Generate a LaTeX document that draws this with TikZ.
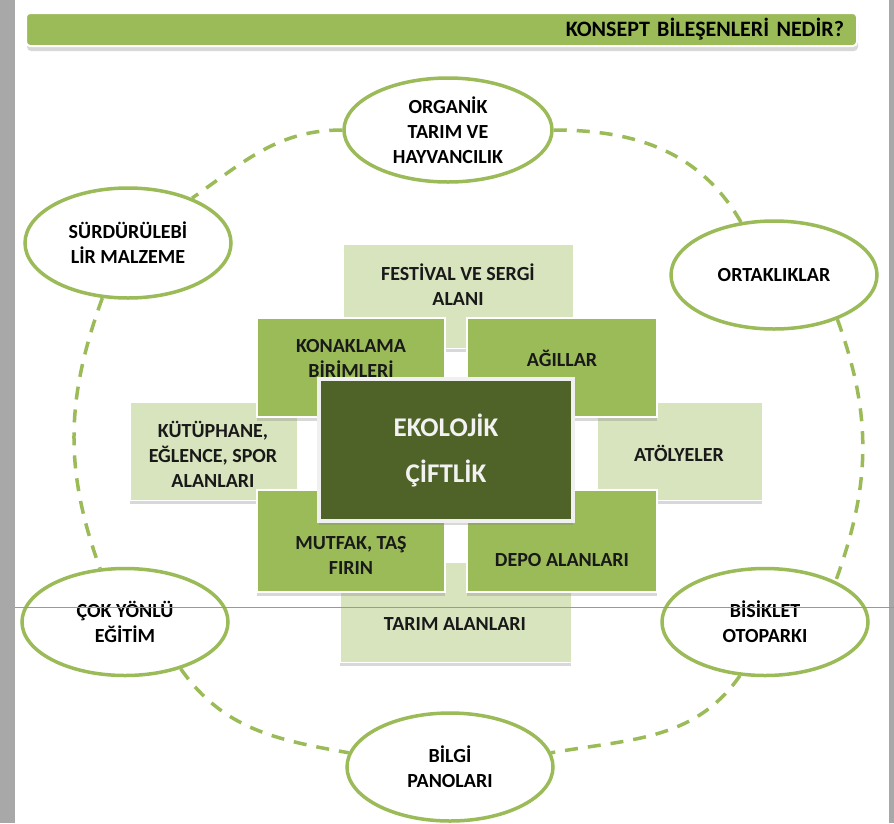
\documentclass[tikz,border=0pt]{standalone}
\usepackage{fontspec}
\setmainfont{Carlito}
\usepackage{tikz}
\usetikzlibrary{shapes.geometric, shadows}
\definecolor{leafgreen}{RGB}{155,187,89}
\definecolor{palegreen}{RGB}{215,228,189}
\definecolor{olivedark}{RGB}{79,98,40}
\definecolor{framegray}{RGB}{168,168,168}
\tikzstyle{bubble} = [ellipse, draw=leafgreen, line width=3.5pt, fill=white, align=center, inner sep=0pt, font=\bfseries\fontsize{20}{25}\selectfont]
\tikzstyle{palebox} = [rectangle, fill=palegreen, draw=white, line width=1pt, drop shadow={shadow xshift=0pt,shadow yshift=-4pt,opacity=0.3}]
\tikzstyle{greenbox} = [rectangle, fill=leafgreen, draw=white, line width=1.5pt, drop shadow={shadow xshift=0pt,shadow yshift=-4pt,opacity=0.3}]
\tikzstyle{corebox} = [rectangle, fill=olivedark, draw=white!94!black, line width=4pt, align=center, text=white!95!black, font=\bfseries\fontsize{27}{46}\selectfont, drop shadow={shadow xshift=0pt,shadow yshift=-4pt,opacity=0.3}]
\tikzstyle{boxtext} = [align=center, text=black!90, font=\bfseries\fontsize{20}{25}\selectfont]
\tikzstyle{hdrbar} = [rectangle, rounded corners=4pt, fill=leafgreen, draw=white, line width=2pt, minimum height=33pt, text width=805pt, inner xsep=13pt, align=right, font=\bfseries\fontsize{22}{25}\selectfont, drop shadow={shadow xshift=1pt,shadow yshift=-5pt,opacity=0.3}]
\tikzstyle{link} = [leafgreen, line width=3.5pt, dash pattern=on 13pt off 10pt]

\begin{document}
\begin{tikzpicture}[x=1pt,y=-1pt]
\useasboundingbox (0,0) rectangle (894,823);
\fill[white] (0,0) rectangle (894,823);
\fill[framegray] (0,0) rectangle (15,823);
\fill[framegray] (889,0) rectangle (894,823);
% title bar
\node (hdr) at (441.5,29.5) [hdrbar] {KONSEPT BİLEŞENLERİ NEDİR?};
% outer ring
\node (org) at (448,130) [bubble, minimum width=208pt, minimum height=104pt] {ORGANİK\\TARIM VE\\HAYVANCILIK};
\node (surd) at (128,243) [bubble, minimum width=206pt, minimum height=110pt] {SÜRDÜRÜLEBİ\\LİR MALZEME};
\node (ortak) at (774,275) [bubble, minimum width=206pt, minimum height=108pt] {ORTAKLIKLAR};
\node (cok) at (125,622) [bubble, minimum width=206pt, minimum height=107pt] {ÇOK YÖNLÜ\\EĞİTİM};
\node (bisik) at (765,622) [bubble, minimum width=206pt, minimum height=107pt] {BİSİKLET\\OTOPARKI};
\node (bilgi) at (450,767) [bubble, minimum width=206pt, minimum height=108pt] {BİLGİ\\PANOLARI};
\draw[link] (org.west) to[out=180,in=35] (surd.35);
\draw[link] (org.east) to[out=0,in=120] (ortak.122);
\draw[link] (surd.245) to[out=250,in=110] (cok.115);
\draw[link] (ortak.325) to[out=290,in=70] (bisik.30);
\draw[link] (cok.320) to[out=305,in=170] (bilgi.172);
\draw[link] (bisik.245) to[out=235,in=10] (bilgi.8);
% pale boxes behind
\node (fest) at (458,296) [palebox, minimum width=230pt, minimum height=104pt] {};
\node (festtxt) at (458,285) [boxtext] {FESTİVAL VE SERGİ\\ALANI};
\node (kutup) at (213.5,451) [palebox, minimum width=167pt, minimum height=98pt] {};
\node (kuttxt) at (213,454) [boxtext] {KÜTÜPHANE,\\EĞLENCE, SPOR\\ALANLARI};
\node (atol) at (679.5,451) [palebox, minimum width=165pt, minimum height=98pt] {};
\node (atoltxt) at (679,453) [boxtext] {ATÖLYELER};
\node (tarim) at (455.5,612) [palebox, minimum width=231pt, minimum height=100pt] {};
\node (tarimtxt) at (455,624) [boxtext] {TARIM ALANLARI};
% green boxes
\node (konak) at (351,367.5) [greenbox, minimum width=188pt, minimum height=99pt] {};
\node (konaktxt) at (351,358) [boxtext] {KONAKLAMA\\BİRİMLERİ};
\node (agil) at (562,367.5) [greenbox, minimum width=190pt, minimum height=99pt] {};
\node (agiltxt) at (562,358) [boxtext] {AĞILLAR};
\node (mutf) at (351,541) [greenbox, minimum width=188pt, minimum height=102pt] {};
\node (mutftxt) at (351,555) [boxtext] {MUTFAK, TAŞ\\FIRIN};
\node (depo) at (562,541) [greenbox, minimum width=190pt, minimum height=102pt] {};
\node (depotxt) at (562,560) [boxtext] {DEPO ALANLARI};
% centre
\node (eko) at (446,450) [corebox, minimum width=254pt, minimum height=142pt] {EKOLOJİK\\ÇİFTLİK};
% page edge
\draw[gray!80, line width=1pt] (15,607) -- (894,607);
\end{tikzpicture}
\end{document}
